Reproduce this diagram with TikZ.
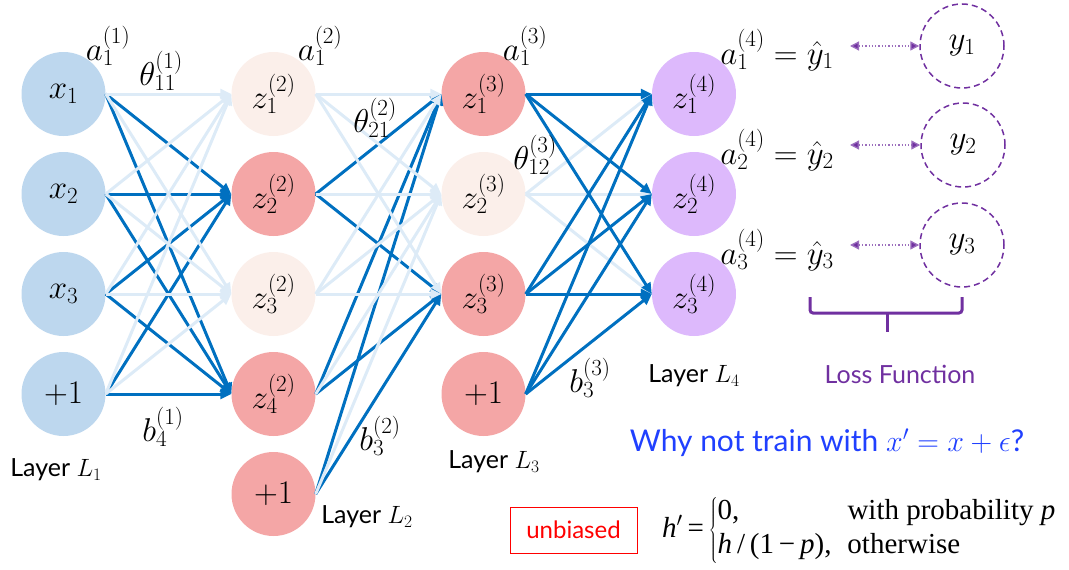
\RequirePackage{fix-cm}
\documentclass[tikz,border=0pt]{standalone}
\usepackage{fontspec}
\setsansfont{Lato}
\newfontfamily\tms{Liberation Serif}
\usetikzlibrary{arrows.meta}
\definecolor{sb}{HTML}{0070C0}
\definecolor{lb}{HTML}{DDEBF7}
\definecolor{inblue}{HTML}{BDD7EE}
\definecolor{pk}{HTML}{F4A6A6}
\definecolor{lpk}{HTML}{FBEFEA}
\definecolor{pfill}{HTML}{DDB9FC}
\definecolor{pur}{HTML}{7030A0}
\definecolor{wb}{HTML}{2040FF}
\tikzset{
  neuron/.style={circle, minimum size=84pt, inner sep=0pt, font=\fontsize{33}{38}\selectfont},
  inn/.style={neuron, fill=inblue},
  act/.style={neuron, fill=pk},
  drop/.style={neuron, fill=lpk},
  outn/.style={neuron, fill=pfill},
  target/.style={neuron, draw=pur, dash pattern=on 6pt off 4pt, line width=1.5pt},
  strong/.style={draw=sb, line width=3pt, -{Triangle[length=11pt,width=10pt]}},
  weak/.style={draw=lb, line width=3pt, -{Triangle[length=11pt,width=10pt]}},
  lbl/.style={inner sep=0pt, font=\fontsize{33}{38}\selectfont},
  layertxt/.style={inner sep=0pt, font=\sffamily\fontsize{25}{30}\selectfont},
  lossarr/.style={draw=pur!70, line width=1.3pt, dotted, {Triangle[length=9pt,width=9pt,fill=pur]}-{Triangle[length=9pt,width=9pt,fill=pur]}}
}
\begin{document}
\begin{tikzpicture}[x=1pt,y=-1pt]
\useasboundingbox (0,0) rectangle (1069,570);
% layer 1
\node[inn] (x1) at (63.5,94) {$x_1$};
\node[inn] (x2) at (63.5,194) {$x_2$};
\node[inn] (x3) at (63.5,294) {$x_3$};
\node[inn] (b1) at (63.5,394) {$+1$};
% layer 2
\node[drop] (h21) at (273.5,94) {$z_1^{(2)}$};
\node[act] (h22) at (273.5,194) {$z_2^{(2)}$};
\node[drop] (h23) at (273.5,294) {$z_3^{(2)}$};
\node[act] (h24) at (273.5,394) {$z_4^{(2)}$};
\node[act] (b2) at (273.5,494) {$+1$};
% layer 3
\node[act] (h31) at (483.5,94) {$z_1^{(3)}$};
\node[drop] (h32) at (483.5,194) {$z_2^{(3)}$};
\node[act] (h33) at (483.5,294) {$z_3^{(3)}$};
\node[act] (b3) at (483.5,394) {$+1$};
% layer 4
\node[outn] (o1) at (694,94) {$z_1^{(4)}$};
\node[outn] (o2) at (694,194) {$z_2^{(4)}$};
\node[outn] (o3) at (694,294) {$z_3^{(4)}$};
% targets
\node[target] (y1) at (962,46) {$y_1$};
\node[target] (y2) at (963,145) {$y_2$};
\node[target] (y3) at (962,245) {$y_3$};

% L1 -> L2
\foreach \s in {x1,x2,x3,b1}{
  \foreach \t in {h22,h24}{ \draw[strong] (\s.east) -- (\t.west); }
}
\foreach \s in {x1,x2,x3,b1}{
  \foreach \t in {h21,h23}{ \draw[weak] (\s.east) -- (\t.west); }
}
% L2 -> L3
\foreach \s in {h22,h24,b2}{
  \foreach \t in {h31,h33}{ \draw[strong] (\s.east) -- (\t.west); }
}
\foreach \s in {h21,h23}{
  \foreach \t in {h31,h32,h33}{ \draw[weak] (\s.east) -- (\t.west); }
}
\foreach \s in {h22,h24,b2}{ \draw[weak] (\s.east) -- (h32.west); }
% L3 -> L4
\foreach \t in {o1,o2,o3}{ \draw[weak] (h32.east) -- (\t.west); }
\foreach \s in {h31,h33,b3}{
  \foreach \t in {o1,o2,o3}{ \draw[strong] (\s.east) -- (\t.west); }
}

% edge labels
\node[lbl] (la1) at (108,46) {$a_1^{(1)}$};
\node[lbl] (lt1) at (161,71) {$\theta_{11}^{(1)}$};
\node[lbl] (la2) at (320,46) {$a_1^{(2)}$};
\node[lbl] (lt2) at (375,118) {$\theta_{21}^{(2)}$};
\node[lbl] (la3) at (525,46) {$a_1^{(3)}$};
\node[lbl] (lt3) at (535,155) {$\theta_{12}^{(3)}$};
\node[lbl] (lb1) at (163,427) {$b_4^{(1)}$};
\node[lbl] (lb2) at (380,436) {$b_3^{(2)}$};
\node[lbl] (lb3) at (590,378) {$b_3^{(3)}$};
\node[lbl] (yh1) at (777,50) {$a_1^{(4)} = \hat{y}_1$};
\node[lbl] (yh2) at (777,150) {$a_2^{(4)} = \hat{y}_2$};
\node[lbl] (yh3) at (777,250) {$a_3^{(4)} = \hat{y}_3$};

% loss arrows
\coordinate (d1) at (850,46);
\coordinate (d2) at (850,145);
\coordinate (d3) at (850,245);
\draw[lossarr] (d1) -- (y1);
\draw[lossarr] (d2) -- (y2);
\draw[lossarr] (d3) -- (y3);

% brace
\draw[pur, line width=3pt, rounded corners=3pt] (810,297) -- (810,313) -- (962,313) -- (962,297);
\draw[pur, line width=3pt] (887,313) -- (887,332);

% layer labels
\node[layertxt] (L1) at (56,470) {Layer $L_1$};
\node[layertxt] (L2) at (367,517) {Layer $L_2$};
\node[layertxt] (L3) at (494,462) {Layer $L_3$};
\node[layertxt] (L4) at (694,376) {Layer $L_4$};
\node[layertxt, text=pur] (loss) at (900,374) {Loss Function};

\node[inner sep=0pt, text=wb, font=\sffamily\fontsize{30}{36}\selectfont] (why) at (827,443) {Why not train with $x' = x + \epsilon$?};

\node[draw=red, text=red, line width=1pt, minimum width=127pt, minimum height=46pt, inner sep=0pt, font=\sffamily\fontsize{24}{30}\selectfont] (unb) at (573.5,530) {unbiased};

\node[anchor=west, inner sep=0pt, font=\tms\fontsize{29}{34}\selectfont] (hp) at (662,530)
  {\textit{h}$'$\,=\,$\left\{\mbox{\begin{tabular}{@{}l@{\hspace{16pt}}l@{}}0, & with probability \textit{p}\\ \textit{h}\,/\,(1\,−\,\textit{p}), & otherwise\end{tabular}}\right.$};
\end{tikzpicture}
\end{document}
